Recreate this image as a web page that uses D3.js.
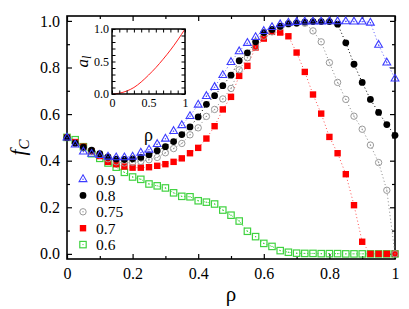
<!DOCTYPE html>
<html>
<head>
<meta charset="utf-8">
<script src="https://cdn.jsdelivr.net/npm/d3@7"></script>
<style>
  body { margin: 0; background: #fff; }
  svg { display: block; font-family: 'Liberation Serif', 'Times New Roman', serif; }
</style>
</head>
<body>
<svg id="chart" width="409" height="309"></svg>
<script>
// rho grid (step 0.025)
const rho = [0, 0.025, 0.05, 0.075, 0.1, 0.125, 0.15, 0.175, 0.2, 0.225,
    0.25, 0.275, 0.3, 0.325, 0.35, 0.375, 0.4, 0.425, 0.45, 0.475,
    0.5, 0.525, 0.55, 0.575, 0.6, 0.625, 0.65, 0.675, 0.7, 0.725,
    0.75, 0.775, 0.8, 0.825, 0.85, 0.875, 0.9, 0.925, 0.95, 0.975, 1];

// f_C for each series
const f09 = [0.50, 0.47, 0.44, 0.43, 0.425, 0.418, 0.415, 0.415, 0.418, 0.435,
    0.448, 0.472, 0.495, 0.528, 0.553, 0.592, 0.641, 0.678, 0.717, 0.768,
    0.824, 0.870, 0.906, 0.931, 0.957, 0.974, 0.986, 0.993, 0.996, 0.998,
    0.998, 0.998, 0.999, 0.999, 0.999, 0.998, 0.998, 0.993, 0.898, 0.822, 0.753];
const f08 = [0.50, 0.475, 0.458, 0.445, 0.43, 0.416, 0.407, 0.405, 0.408, 0.414,
    0.425, 0.443, 0.46, 0.482, 0.512, 0.545, 0.588, 0.642, 0.679, 0.722,
    0.767, 0.829, 0.863, 0.91, 0.95, 0.963, 0.977, 0.988, 0.991, 0.995,
    0.997, 0.997, 0.997, 0.986, 0.906, 0.814, 0.736, 0.663, 0.607, 0.555, 0.509];
const f075 = [0.50, 0.475, 0.455, 0.44, 0.425, 0.408, 0.395, 0.39, 0.393, 0.397,
    0.404, 0.414, 0.434, 0.452, 0.474, 0.511, 0.541, 0.59, 0.62, 0.665,
    0.71, 0.79, 0.842, 0.888, 0.934, 0.953, 0.974, 0.986, 0.99, 0.99,
    0.957, 0.91, 0.821, 0.736, 0.663, 0.591, 0.535, 0.467, 0.392, 0.273, 0.0];
const f07 = [0.50, 0.48, 0.46, 0.44, 0.42, 0.395, 0.385, 0.375, 0.37, 0.37,
    0.372, 0.378, 0.385, 0.395, 0.41, 0.432, 0.455, 0.495, 0.548, 0.62,
    0.674, 0.764, 0.807, 0.886, 0.924, 0.953, 0.95, 0.934, 0.864, 0.781,
    0.684, 0.602, 0.502, 0.432, 0.342, 0.209, 0.052, 0.0, 0.0, 0.0, 0.0];
const f06 = [0.50, 0.49, 0.46, 0.43, 0.41, 0.39, 0.372, 0.35, 0.33, 0.32,
    0.30, 0.292, 0.283, 0.262, 0.247, 0.245, 0.228, 0.222, 0.214, 0.188,
    0.166, 0.141, 0.097, 0.074, 0.045, 0.032, 0.014, 0.007, 0.003, 0.002,
    0.002, 0.001, 0.001, 0.001, 0.0, 0.0, 0.0, 0.0, 0.0, 0.0, 0.0];

const seriesLabels = ['0.9', '0.8', '0.75', '0.7', '0.6'];

// inset curve a_l(rho)
const insetRho = [0, 0.1, 0.2, 0.3, 0.4, 0.5, 0.6, 0.7, 0.8, 0.9, 1];
const insetA = [0, 0.012, 0.045, 0.1, 0.185, 0.29, 0.405, 0.535, 0.675, 0.83, 1];

const xTicks = [0, 0.2, 0.4, 0.6, 0.8, 1];
const xTickLabels = ['0', '0.2', '0.4', '0.6', '0.8', '1'];
const yTicks = [0, 0.2, 0.4, 0.6, 0.8, 1];
const yTickLabels = ['0.0', '0.2', '0.4', '0.6', '0.8', '1.0'];
const minorTicks = [0.1, 0.3, 0.5, 0.7, 0.9];
const insetTicks = [0, 0.5, 1];
const insetXLabels = ['0', '0.5', '1'];
const insetYLabels = ['0.0', '0.5', '1.0'];
const insetMinor = [0.1, 0.2, 0.3, 0.4, 0.6, 0.7, 0.8, 0.9];

const svg = d3.select('#chart');

// main plot frame
const plot = { left: 67, right: 395, top: 16, bottom: 259 };
const x = d3.scaleLinear().domain([0, 1]).range([plot.left, plot.right]);
const y = d3.scaleLinear().domain([-0.022, 1.021]).range([plot.bottom, plot.top]);

function addAxes(g, xs, ys, box, opt) {
    const fmtX = d => opt.xLabels[opt.xTicks.indexOf(d)];
    const fmtY = d => opt.yLabels[opt.yTicks.indexOf(d)];
    // bottom
    g.append('g').attr('transform', `translate(0,${box.bottom})`)
        .call(d3.axisBottom(xs).tickValues(opt.xTicks).tickSize(-opt.major).tickPadding(opt.padX).tickFormat(fmtX));
    g.append('g').attr('transform', `translate(0,${box.bottom})`)
        .call(d3.axisBottom(xs).tickValues(opt.minor).tickSize(-opt.minorLen).tickFormat(''));
    // top
    g.append('g').attr('transform', `translate(0,${box.top})`)
        .call(d3.axisTop(xs).tickValues(opt.xTicks).tickSize(-opt.major).tickFormat(''));
    g.append('g').attr('transform', `translate(0,${box.top})`)
        .call(d3.axisTop(xs).tickValues(opt.minor).tickSize(-opt.minorLen).tickFormat(''));
    // left
    g.append('g').attr('transform', `translate(${box.left},0)`)
        .call(d3.axisLeft(ys).tickValues(opt.yTicks).tickSize(-opt.major).tickPadding(opt.padY).tickFormat(fmtY));
    g.append('g').attr('transform', `translate(${box.left},0)`)
        .call(d3.axisLeft(ys).tickValues(opt.minor).tickSize(-opt.minorLen).tickFormat(''));
    // right
    g.append('g').attr('transform', `translate(${box.right},0)`)
        .call(d3.axisRight(ys).tickValues(opt.yTicks).tickSize(-opt.major).tickFormat(''));
    g.append('g').attr('transform', `translate(${box.right},0)`)
        .call(d3.axisRight(ys).tickValues(opt.minor).tickSize(-opt.minorLen).tickFormat(''));

    g.selectAll('.domain').remove();
    g.selectAll('.tick line').attr('stroke', '#000').attr('stroke-width', opt.tickWidth);
    g.selectAll('.tick text')
        .attr('fill', '#000')
        .style('font-family', "'Liberation Serif', serif")
        .style('font-size', opt.fontSize + 'px');

    g.append('rect')
        .attr('x', box.left).attr('y', box.top)
        .attr('width', box.right - box.left).attr('height', box.bottom - box.top)
        .attr('fill', 'none').attr('stroke', '#000').attr('stroke-width', opt.frameWidth);
}

addAxes(svg.append('g'), x, y, plot, {
    xTicks, yTicks, xLabels: xTickLabels, yLabels: yTickLabels,
    minor: minorTicks, major: 5, minorLen: 3, padX: 9, padY: 7,
    fontSize: 16, tickWidth: 1.2, frameWidth: 1.6
});

// axis titles
svg.append('text')
    .attr('x', (plot.left + plot.right) / 2).attr('y', 301)
    .attr('text-anchor', 'middle')
    .style('font-size', '21px')
    .text('ρ');

const yTitle = svg.append('text')
    .attr('transform', `translate(25,${(plot.top + plot.bottom) / 2 + 10}) rotate(-90)`)
    .attr('text-anchor', 'middle')
    .style('font-size', '21px')
    .style('font-style', 'italic');
yTitle.append('tspan').text('f');
yTitle.append('tspan').attr('dy', 4).style('font-size', '15px').text('C');

// marker drawing
function marker(g, type, cx, cy) {
    const m = g.append('g').attr('transform', `translate(${cx},${cy})`);
    if (type === 'tri') {
        m.append('path').attr('d', 'M0,-4.2L3.9,2.6L-3.9,2.6Z')
            .attr('fill', 'none').attr('stroke', '#3c3cff').attr('stroke-width', 1.1);
        m.append('circle').attr('r', 0.7).attr('cy', 0.3).attr('fill', '#3c3cff');
    } else if (type === 'dot') {
        m.append('circle').attr('r', 3.4).attr('fill', '#000');
    } else if (type === 'ring') {
        m.append('circle').attr('r', 3.2)
            .attr('fill', 'none').attr('stroke', '#999').attr('stroke-width', 1);
        m.append('circle').attr('r', 0.7).attr('fill', '#999');
    } else if (type === 'sq') {
        m.append('rect').attr('x', -3.2).attr('y', -3.2).attr('width', 6.4).attr('height', 6.4)
            .attr('fill', '#ff0000');
    } else if (type === 'osq') {
        m.append('rect').attr('x', -3.2).attr('y', -3.2).attr('width', 6.4).attr('height', 6.4)
            .attr('fill', 'none').attr('stroke', '#3fd23f').attr('stroke-width', 1.2);
        m.append('circle').attr('r', 0.7).attr('fill', '#3fd23f');
    }
}

// series, drawn from bottom layer to top
const series = [
    { label: '0.6', values: f06, type: 'osq', line: '#3fd23f' },
    { label: '0.7', values: f07, type: 'sq', line: '#ff5050' },
    { label: '0.75', values: f075, type: 'ring', line: '#888' },
    { label: '0.8', values: f08, type: 'dot', line: '#000' },
    { label: '0.9', values: f09, type: 'tri', line: '#5a5aff' }
];

const line = d3.line()
    .x((d, i) => x(rho[i]))
    .y(d => y(d));

series.forEach(s => {
    svg.append('path')
        .attr('d', line(s.values))
        .attr('fill', 'none')
        .attr('stroke', s.line)
        .attr('stroke-width', 1)
        .attr('stroke-dasharray', '1,2.5');
});

series.forEach(s => {
    const g = svg.append('g');
    s.values.forEach((v, i) => marker(g, s.type, x(rho[i]), y(v)));
});

// legend
const legend = svg.append('g').attr('transform', 'translate(83,179)');
seriesLabels.forEach((lab, i) => {
    const s = series.find(d => d.label === lab);
    const row = legend.append('g').attr('transform', `translate(0,${i * 16.4})`);
    marker(row, s.type, 0, 0);
    row.append('text')
        .attr('x', 13).attr('y', 5.5)
        .style('font-size', '15.5px')
        .text(lab);
});

// inset
const inset = { left: 112, right: 185, top: 29, bottom: 94 };
const ix = d3.scaleLinear().domain([0, 1]).range([inset.left, inset.right]);
const iy = d3.scaleLinear().domain([0, 1]).range([inset.bottom, inset.top]);

svg.append('rect')
    .attr('x', inset.left).attr('y', inset.top)
    .attr('width', inset.right - inset.left).attr('height', inset.bottom - inset.top)
    .attr('fill', '#fff');

svg.append('path')
    .datum(insetA)
    .attr('d', d3.line().x((d, i) => ix(insetRho[i])).y(d => iy(d)).curve(d3.curveMonotoneX))
    .attr('fill', 'none')
    .attr('stroke', '#ff2020')
    .attr('stroke-width', 1);

addAxes(svg.append('g'), ix, iy, inset, {
    xTicks: insetTicks, yTicks: insetTicks, xLabels: insetXLabels, yLabels: insetYLabels,
    minor: insetMinor, major: 3.5, minorLen: 3.5, padX: 4, padY: 3,
    fontSize: 12, tickWidth: 1, frameWidth: 1.5
});

svg.append('text')
    .attr('x', (inset.left + inset.right) / 2).attr('y', 141)
    .attr('text-anchor', 'middle')
    .style('font-size', '18px')
    .text('ρ');

const aTitle = svg.append('text')
    .attr('transform', `translate(88,${(inset.top + inset.bottom) / 2}) rotate(-90)`)
    .attr('text-anchor', 'middle')
    .style('font-size', '17px')
    .style('font-style', 'italic');
aTitle.append('tspan').text('a');
aTitle.append('tspan').attr('dy', 3).style('font-size', '12px').text('l');
</script>
</body>
</html>
